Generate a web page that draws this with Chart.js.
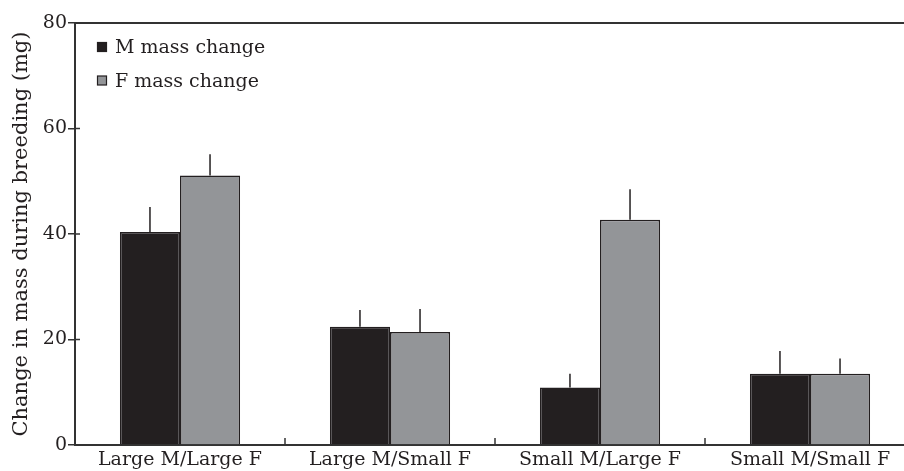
<!DOCTYPE html>
<html>
<head>
<meta charset="utf-8">
<script src="https://cdn.jsdelivr.net/npm/chart.js@4/dist/chart.umd.min.js"></script>
<style>
  html, body { margin: 0; padding: 0; background: #fff; overflow: hidden; }
  #wrap { width: 904px; height: 471px; overflow: hidden; }
</style>
</head>
<body>
<div id="wrap"><canvas id="c" width="915" height="471"></canvas></div>
<script>
const categories = ['Large M/Large F', 'Large M/Small F', 'Small M/Large F', 'Small M/Small F'];
const seriesNames = ['M mass change', 'F mass change'];
const maleMass = [40.4, 22.4, 10.9, 13.5];
const maleErr = [4.7, 3.2, 2.6, 4.3];
const femaleMass = [51.1, 21.4, 42.7, 13.5];
const femaleErr = [4.0, 4.4, 5.8, 2.9];
const yTicks = [0, 20, 40, 60, 80];
const yTitle = 'Change in mass during breeding (mg)';

const INK = '#231f20';
const AXIS = '#333333';
const FONT = "'DejaVu Serif', serif";

const errors = [maleErr, femaleErr];

const decor = {
  id: 'decor',
  afterDatasetsDraw(chart) {
    const ctx = chart.ctx;
    const y = chart.scales.y;
    chart.data.datasets.forEach((ds, di) => {
      const meta = chart.getDatasetMeta(di);
      meta.data.forEach((bar, i) => {
        const top = y.getPixelForValue(ds.data[i] + errors[di][i]);
        ctx.save();
        ctx.strokeStyle = INK;
        ctx.lineWidth = 1.5;
        ctx.beginPath();
        ctx.moveTo(bar.x, bar.y);
        ctx.lineTo(bar.x, top);
        ctx.stroke();
        ctx.restore();
      });
    });
  },
  afterDraw(chart) {
    const ctx = chart.ctx;
    const a = chart.chartArea;
    const x = chart.scales.x;
    const y = chart.scales.y;
    ctx.save();
    ctx.strokeStyle = AXIS;
    ctx.lineWidth = 2;
    // top frame
    ctx.beginPath();
    ctx.moveTo(a.left, a.top);
    ctx.lineTo(a.right, a.top);
    ctx.stroke();
    // inner x ticks at category boundaries
    ctx.lineWidth = 1.5;
    for (let i = 1; i < categories.length; i++) {
      const px = (x.getPixelForTick(i - 1) + x.getPixelForTick(i)) / 2;
      ctx.beginPath();
      ctx.moveTo(px, a.bottom);
      ctx.lineTo(px, a.bottom - 7);
      ctx.stroke();
    }
    // inner part of y ticks
    yTicks.forEach(v => {
      const py = y.getPixelForValue(v);
      ctx.beginPath();
      ctx.moveTo(a.left, py);
      ctx.lineTo(a.left + 5, py);
      ctx.stroke();
    });
    // legend
    ctx.font = '19px ' + FONT;
    ctx.textBaseline = 'alphabetic';
    ctx.textAlign = 'left';
    chart.data.datasets.forEach((ds, di) => {
      const base = 53 + di * 33.5;
      ctx.fillStyle = ds.backgroundColor;
      ctx.fillRect(97.5, base - 10.5, 9, 9);
      ctx.lineWidth = 1.2;
      ctx.strokeStyle = INK;
      ctx.strokeRect(97.5, base - 10.5, 9, 9);
      ctx.fillStyle = INK;
      ctx.fillText(ds.label, 115, base);
    });
    ctx.restore();
  }
};

new Chart(document.getElementById('c'), {
  type: 'bar',
  data: {
    labels: categories,
    datasets: [
      { label: seriesNames[0], data: maleMass, backgroundColor: INK, borderColor: INK, borderWidth: 1.5 },
      { label: seriesNames[1], data: femaleMass, backgroundColor: '#939598', borderColor: INK, borderWidth: 1.5 }
    ]
  },
  options: {
    responsive: false,
    animation: false,
    events: [],
    layout: { padding: { top: 23, left: 0, right: 0, bottom: 0 } },
    datasets: { bar: { categoryPercentage: 0.572, barPercentage: 1.0 } },
    plugins: { legend: { display: false }, tooltip: { enabled: false } },
    scales: {
      x: {
        grid: { display: false, drawTicks: false },
        border: { display: true, color: AXIS, width: 2 },
        ticks: { color: INK, font: { family: FONT, size: 19 }, padding: 4, maxRotation: 0, autoSkip: false },
        afterFit(s) { s.height = 26; }
      },
      y: {
        min: 0, max: 80,
        afterBuildTicks(s) { s.ticks = yTicks.map(v => ({ value: v })); },
        grid: { display: true, drawOnChartArea: false, drawTicks: true, tickLength: 7, color: AXIS, lineWidth: 1.5 },
        border: { display: true, color: AXIS, width: 2 },
        ticks: { color: INK, font: { family: FONT, size: 19 }, padding: 1 },
        title: { display: true, text: yTitle, color: INK, font: { family: FONT, size: 21 }, padding: { top: 9, bottom: 0 } },
        afterFit(s) { s.width = 75; }
      }
    }
  },
  plugins: [decor]
});
</script>
</body>
</html>
